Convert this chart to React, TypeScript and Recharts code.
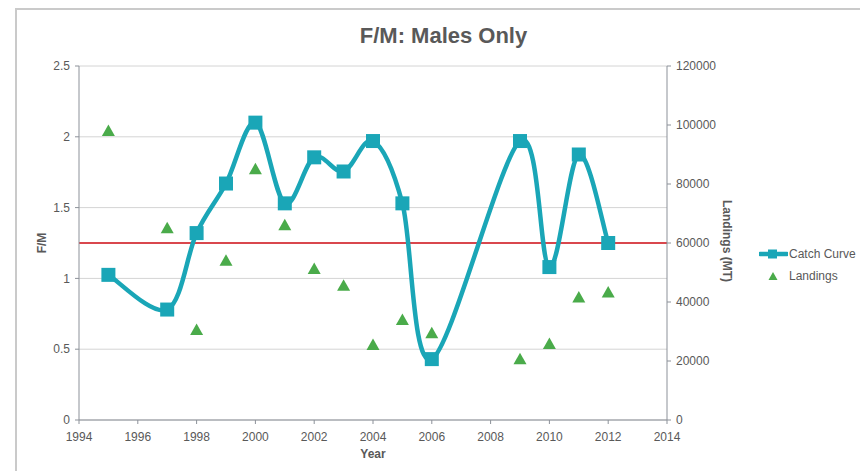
import React from 'react';
import {
  ComposedChart, Line, Scatter, XAxis, YAxis, CartesianGrid, ReferenceLine, Legend, Label,
} from 'recharts';

const years = [1995, 1997, 1998, 1999, 2000, 2001, 2002, 2003, 2004, 2005, 2006, 2009, 2010, 2011, 2012];
const catchCurve = [1.025, 0.78, 1.32, 1.67, 2.1, 1.53, 1.855, 1.755, 1.97, 1.53, 0.43, 1.97, 1.08, 1.875, 1.25];
const landings = [98000, 65000, 30500, 54000, 85000, 66000, 51200, 45500, 25400, 33900, 29400, 20600, 25800, 41500, 43200];
const xTicks = [1994, 1996, 1998, 2000, 2002, 2004, 2006, 2008, 2010, 2012, 2014];
const leftTicks = [0, 0.5, 1, 1.5, 2, 2.5];
const rightTicks = [0, 20000, 40000, 60000, 80000, 100000, 120000];
const targetFM = 1.25;

const data = years.map((y, i) => ({ year: y, fm: catchCurve[i], landings: landings[i] }));

const TEAL = '#1aa6b7';
const GREEN = '#4aab4a';
const TEXT = '#595959';
const AXIS = '#8c9199';
const FONT = '"Liberation Sans", Arial, Helvetica, sans-serif';

// Excel-like smoothed line (uniform Catmull-Rom as cubic Bezier)
function excelSmooth(context: any) {
  let pts: number[][] = [];
  return {
    areaStart() {},
    areaEnd() {},
    lineStart() { pts = []; },
    point(x: number, y: number) { pts.push([+x, +y]); },
    lineEnd() {
      const n = pts.length;
      if (!n) return;
      context.moveTo(pts[0][0], pts[0][1]);
      for (let i = 0; i < n - 1; i++) {
        const p0 = pts[i - 1] || pts[i];
        const p1 = pts[i];
        const p2 = pts[i + 1];
        const p3 = pts[i + 2] || pts[i + 1];
        context.bezierCurveTo(
          p1[0] + (p2[0] - p0[0]) / 6, p1[1] + (p2[1] - p0[1]) / 6,
          p2[0] - (p3[0] - p1[0]) / 6, p2[1] - (p3[1] - p1[1]) / 6,
          p2[0], p2[1],
        );
      }
    },
  };
}

const SquareDot = (props: any) => {
  const { cx, cy } = props;
  if (cx == null || cy == null) return null;
  return <rect x={cx - 7} y={cy - 7} width={14} height={14} fill={TEAL} />;
};

const Triangle = (props: any) => {
  const { cx, cy } = props;
  if (cx == null || cy == null) return null;
  return <polygon points={`${cx},${cy - 6.5} ${cx + 6.5},${cy + 5} ${cx - 6.5},${cy + 5}`} fill={GREEN} />;
};

const renderLegend = () => (
  <div style={{ fontFamily: FONT, fontSize: 12, color: TEXT, lineHeight: '22px' }}>
    <div style={{ display: 'flex', alignItems: 'center', height: 22 }}>
      <svg width={29} height={12} style={{ marginRight: 1 }}>
        <line x1={1} y1={6} x2={28} y2={6} stroke={TEAL} strokeWidth={4.5} strokeLinecap="round" />
        <rect x={9} y={1.5} width={9} height={9} fill={TEAL} />
      </svg>
      <span>Catch Curve</span>
    </div>
    <div style={{ display: 'flex', alignItems: 'center', height: 22 }}>
      <svg width={29} height={12} style={{ marginRight: 1 }}>
        <polygon points="14,2 18.5,10 9.5,10" fill={GREEN} />
      </svg>
      <span>Landings</span>
    </div>
  </div>
);

export default function App() {
  return (
    <div style={{ position: 'absolute', left: 0, top: 0, width: 860, height: 471, background: '#fff', overflow: 'hidden' }}>
      <div style={{ position: 'absolute', left: 15, top: 8, width: 900, height: 500, borderLeft: '2px solid #cacaca', borderTop: '2px solid #cacaca' }} />
      <div style={{ position: 'absolute', left: 0, width: 887, top: 23, textAlign: 'center', fontFamily: FONT, fontWeight: 'bold', fontSize: 22, color: TEXT }}>
        F/M: Males Only
      </div>
      <div style={{ position: 'absolute', left: 0, top: 0 }}>
        <ComposedChart width={860} height={471} data={data} margin={{ top: 66, right: 113, bottom: 21, left: 0 }}>
          <CartesianGrid yAxisId="left" vertical={false} stroke="#d4d4d4" strokeWidth={1} />
          <XAxis
            dataKey="year" type="number" domain={[1994, 2014]} ticks={xTicks} interval={0}
            height={30} stroke={AXIS} tickSize={4} tickMargin={8}
            tick={{ fill: TEXT, fontSize: 12, fontFamily: FONT }}
          >
            <Label content={(p: any) => {
              const vb = p.viewBox;
              return <text x={vb.x + vb.width / 2} y={vb.y + 38} textAnchor="middle" fontFamily={FONT} fontSize={12} fontWeight="bold" fill={TEXT}>Year</text>;
            }} />
          </XAxis>
          <YAxis
            yAxisId="left" domain={[0, 2.5]} ticks={leftTicks} width={79} stroke={AXIS}
            tickSize={4} tickMargin={5} tick={{ fill: TEXT, fontSize: 12, fontFamily: FONT }}
          >
            <Label content={(p: any) => {
              const vb = p.viewBox;
              const x = vb.x + 42, y = vb.y + vb.height / 2;
              return <text x={x} y={y} transform={`rotate(-90, ${x}, ${y})`} textAnchor="middle" dominantBaseline="central" fontFamily={FONT} fontSize={12} fontWeight="bold" fill={TEXT}>F/M</text>;
            }} />
          </YAxis>
          <YAxis
            yAxisId="right" orientation="right" domain={[0, 120000]} ticks={rightTicks} width={80} stroke={AXIS}
            tickSize={4} tickMargin={5} tick={{ fill: TEXT, fontSize: 12, fontFamily: FONT }}
          >
            <Label content={(p: any) => {
              const vb = p.viewBox;
              const x = vb.x + 60, y = vb.y + vb.height / 2 - 2;
              return <text x={x} y={y} transform={`rotate(90, ${x}, ${y})`} textAnchor="middle" dominantBaseline="central" fontFamily={FONT} fontSize={12} fontWeight="bold" fill={TEXT}>Landings (MT)</text>;
            }} />
          </YAxis>
          <ReferenceLine yAxisId="left" y={targetFM} stroke="#d9474d" strokeWidth={2} />
          <Line
            yAxisId="left" dataKey="fm" name="Catch Curve" type={excelSmooth as any}
            stroke={TEAL} strokeWidth={4.5} dot={<SquareDot />} activeDot={false} isAnimationActive={false}
          />
          <Scatter yAxisId="right" dataKey="landings" name="Landings" shape={<Triangle />} isAnimationActive={false} />
          <Legend
            layout="vertical" align="center" verticalAlign="middle" content={renderLegend}
            wrapperStyle={{ position: 'absolute', left: 759, top: 243, width: 100, height: 44 }}
          />
        </ComposedChart>
      </div>
    </div>
  );
}
